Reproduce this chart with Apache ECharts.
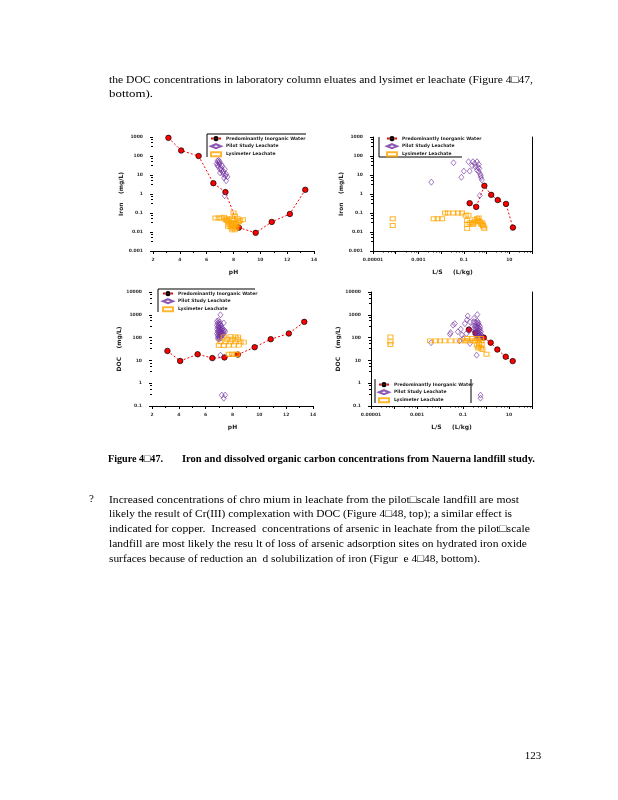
<!DOCTYPE html>
<html>
<head>
<meta charset="utf-8">
<script src="https://cdn.jsdelivr.net/npm/echarts@6/dist/echarts.min.js"></script>
<style>
html,body{margin:0;padding:0;background:#fff;}
#main{width:618px;height:800px;}
</style>
</head>
<body>
<div id="main"></div>
<script>
// ---------------- data ----------------
const seriesNames = ['Predominantly Inorganic Water', 'Pilot Study Leachate', 'Lysimeter Leachate'];

// predominantly inorganic water (pH-static tests)
const inorganicPH = [3.15, 4.1, 5.4, 6.5, 7.4, 8.4, 9.65, 10.85, 12.2, 13.35];
const inorganicFePH = [900, 195, 100, 3.7, 1.26, 0.017, 0.009, 0.034, 0.089, 1.66];
const inorganicDocPH = [26, 9.4, 18.6, 12.6, 13.5, 18, 38, 85, 151, 490];
// predominantly inorganic water (L/S tests)
const inorganicLS = [0.18, 0.35, 0.8, 1.6, 3.1, 7.2, 14.5];
const inorganicFeLS = [0.33, 0.21, 2.7, 0.9, 0.48, 0.3, 0.017];
const inorganicDocLS = [224, 160, 100, 60, 30, 14.5, 9.3];

// pilot study leachate [pH, Fe]
const pilotFePH = [[6.8,55],[6.95,50],[6.75,40],[6.95,38],[6.85,28],[7.15,30],[7.35,20],[7.1,18],[7.0,13],[7.2,14],
  [7.45,11],[7.55,8],[7.3,7],[7.45,5],[7.35,0.8],[6.9,45],[7.05,24],[6.8,33],[7.25,16],[7.4,9],[7.0,20],[6.9,60],[7.1,35],[7.25,11]];
// lysimeter leachate [pH, Fe]
const lysFePH = [[6.65,0.055],[6.9,0.055],[7.1,0.055],[7.3,0.06],[7.5,0.05],[7.7,0.045],[7.9,0.05],[8.0,0.1],[8.1,0.07],[8.3,0.05],
  [8.7,0.045],[8.0,0.04],[7.6,0.035],[7.8,0.03],[8.0,0.028],[8.2,0.03],[7.7,0.025],[7.9,0.022],[8.1,0.02],[8.3,0.025],
  [7.6,0.02],[7.8,0.018],[8.0,0.015],[8.2,0.017],[7.9,0.013],[8.1,0.013],[7.5,0.04],[8.4,0.035],[7.4,0.045],[8.5,0.04]];
// pilot study leachate [L/S, Fe]
const pilotFeLS = [[0.035,44],[0.0037,4.2],[0.078,7.6],[0.1,16],[0.18,16],[0.16,50],[0.25,50],[0.38,50],[0.23,31],[0.32,27],
  [0.45,36],[0.38,18],[0.48,22],[0.45,15],[0.53,11],[0.57,7.3],[0.62,5.5],[0.5,0.83],[0.3,40],[0.42,25],[0.55,9]];
// lysimeter leachate [L/S, Fe]
const lysFeLS = [[0.000074,0.05],[0.000074,0.022],[0.0047,0.05],[0.007,0.05],[0.011,0.05],[0.015,0.1],[0.02,0.1],[0.035,0.1],
  [0.055,0.1],[0.083,0.1],[0.12,0.076],[0.16,0.076],[0.14,0.04],[0.14,0.025],[0.14,0.015],[0.18,0.03],[0.22,0.03],[0.27,0.03],
  [0.33,0.035],[0.38,0.05],[0.42,0.04],[0.5,0.035],[0.55,0.03],[0.6,0.025],[0.65,0.03],[0.7,0.022],[0.75,0.018],[0.8,0.015],
  [0.45,0.055],[0.3,0.045],[0.25,0.025]];
// pilot study leachate [pH, DOC]
const pilotDocPH = [[6.85,520],[6.95,560],[7.05,480],[6.9,430],[7.0,400],[7.1,380],[6.85,350],[6.95,320],[7.05,300],[7.15,330],
  [6.9,280],[7.0,260],[7.1,250],[7.2,270],[6.85,230],[6.95,210],[7.05,200],[7.15,220],[7.25,240],[6.9,180],[7.0,170],[7.1,160],
  [7.2,180],[7.3,200],[6.85,150],[6.95,140],[7.05,130],[7.15,145],[7.25,155],[6.9,120],[7.0,110],[7.1,115],[7.2,125],[7.3,135],
  [6.95,100],[7.05,95],[7.15,100],[6.9,90],[7.0,85],[7.35,160],[7.45,180],[7.4,210],
  [7.1,1000],[7.35,440],[7.1,17],[7.2,0.3],[7.45,0.3],[7.35,0.22]];
// lysimeter leachate [pH, DOC]
const lysDocPH = [[7.35,108],[7.85,110],[8.22,108],[8.42,105],[7.1,65],[7.47,65],[7.85,65],[8.22,65],[8.6,65],[8.84,63],
  [6.98,46],[7.35,45],[7.72,47],[8.1,47],[8.47,47],[7.72,18.6],[7.97,18.6],[8.22,18.6],[8.35,18.6],[7.6,85],[8.0,85],[8.4,85]];
// pilot study leachate [L/S, DOC]
const pilotDocLS = [[0.3,500],[0.35,450],[0.4,420],[0.45,380],[0.5,350],[0.32,330],[0.38,300],[0.44,280],[0.5,260],[0.55,240],
  [0.3,250],[0.36,230],[0.42,210],[0.48,200],[0.54,190],[0.6,180],[0.33,180],[0.39,170],[0.45,160],[0.52,150],[0.58,140],
  [0.35,140],[0.41,130],[0.47,125],[0.53,120],[0.6,110],[0.4,105],[0.46,100],[0.52,95],[0.58,100],[0.62,130],[0.56,300],
  [0.47,450],[0.42,520],
  [0.16,890],[0.42,1020],[0.044,410],[0.037,350],[0.029,165],[0.027,140],[0.0041,60],[0.08,234],[0.12,410],[0.2,490],
  [0.14,150],[0.1,90],[0.07,72],[0.2,55],[0.39,17],[0.58,0.3],[0.58,0.22],[0.25,300],[0.18,200],[0.09,130],[0.06,180],
  [0.3,700],[0.15,600]];
// lysimeter leachate [L/S, DOC]
const lysDocLS = [[0.00007,107],[0.00007,65],[0.00007,50],[0.0037,72],[0.0067,72],[0.01,72],[0.016,72],[0.029,72],[0.052,72],
  [0.087,72],[0.12,72],[0.17,72],[0.23,72],[0.33,72],[0.46,72],[0.64,72],[0.15,91],[0.25,91],[0.4,91],[0.6,91],
  [0.4,47],[0.5,40],[0.6,35],[0.7,30],[0.5,55],[0.65,50],[0.45,35],[1.05,18.6]];

// tick labels
const phTickLabels = ['2','4','6','8','10','12','14'];
const lsTickLabels = ['0.00001','','0.001','','0.1','','10',''];   // 1e-5 .. 1e2
const feTickLabels = ['0.001','0.01','0.1','1','10','100','1000'];  // 1e-3 .. 1e3
const docTickLabels = ['0.1','1','10','100','1000','10000'];         // 1e-1 .. 1e4

// page text
const introLines = ['the DOC concentrations in laboratory column eluates and lysimet er leachate (Figure 4\u25A147,', 'bottom).'];
const captionLabel = 'Figure 4\u25A147.';
const captionText = 'Iron and dissolved organic carbon concentrations from Nauerna landfill study.';
const bulletMark = '?';
const bulletLines = [
  'Increased concentrations of chro mium in leachate from the pilot\u25A1scale landfill are most',
  'likely the result of Cr(III) complexation with DOC (Figure 4\u25A148, top); a similar effect is',
  'indicated for copper.  Increased  concentrations of arsenic in leachate from the pilot\u25A1scale',
  'landfill are most likely the resu lt of loss of arsenic adsorption sites on hydrated iron oxide',
  'surfaces because of reduction an  d solubilization of iron (Figur  e 4\u25A148, bottom).'
];
const pageNumber = '123';

// ---------------- styles ----------------
const RED = '#ff0000', PURPLE = '#7030a0', ORANGE = '#ffa500';
const tickFont = {fontSize: 4.5, fontWeight: 'bold', color: '#333', fontFamily: 'DejaVu Sans'};
const nameFont = {fontSize: 6, fontWeight: 'bold', color: '#222', fontFamily: 'DejaVu Sans'};

function expLabel(arr, offset) {
  return function (v) {
    const e = Math.round(Math.log10(v));
    const s = arr[e + offset];
    return s === undefined ? '' : s;
  };
}

function xPH(gi) {
  return {
    type: 'value', gridIndex: gi, min: 2, max: 14, interval: 2,
    name: 'pH', nameLocation: 'middle', nameGap: 18, nameTextStyle: nameFont,
    axisLine: {show: true, lineStyle: {color: '#000', width: 1}},
    axisTick: {show: true, length: 3, lineStyle: {color: '#000'}},
    minorTick: {show: true, splitNumber: 2, length: 2, lineStyle: {color: '#000'}},
    splitLine: {show: false},
    axisLabel: Object.assign({margin: 6, formatter: v => phTickLabels[(v - 2) / 2]}, tickFont)
  };
}
function xLS(gi) {
  return {
    type: 'log', logBase: 10, gridIndex: gi, min: 0.00001, max: 100, splitNumber: 7,
    name: 'L/S     (L/kg)', nameLocation: 'middle', nameGap: 18, nameTextStyle: nameFont,
    axisLine: {show: true, lineStyle: {color: '#000', width: 1}},
    axisTick: {show: true, length: 3, lineStyle: {color: '#000'}},
    minorTick: {show: true, splitNumber: 5, length: 1.5, lineStyle: {color: '#000'}},
    splitLine: {show: false},
    axisLabel: Object.assign({margin: 6, formatter: expLabel(lsTickLabels, 5)}, tickFont)
  };
}
function yLog(gi, min, max, labels, offset, name, showLine) {
  return {
    type: 'log', logBase: 10, gridIndex: gi, min: min, max: max, splitNumber: Math.round(Math.log10(max / min)),
    name: name, nameLocation: 'middle', nameGap: 28, nameTextStyle: nameFont,
    axisLine: {show: showLine, lineStyle: {color: '#000', width: 1}},
    axisTick: {show: true, length: 3, lineStyle: {color: '#000'}},
    minorTick: {show: true, splitNumber: 4, length: 2, lineStyle: {color: '#000'}},
    splitLine: {show: false},
    axisLabel: Object.assign({margin: 10, formatter: expLabel(labels, offset)}, tickFont)
  };
}
function yRightBorder(gi, min, max) {
  return {
    type: 'log', logBase: 10, gridIndex: gi, position: 'right', min: min, max: max,
    axisLine: {show: true, lineStyle: {color: '#000', width: 1}},
    axisTick: {show: false}, axisLabel: {show: false}, splitLine: {show: false}
  };
}

function inorganicSeries(xi, yi, xs, ys) {
  return {
    name: seriesNames[0], type: 'line', xAxisIndex: xi, yAxisIndex: yi,
    data: xs.map((x, i) => [x, ys[i]]),
    symbol: 'circle', symbolSize: 5.5, z: 2,
    lineStyle: {color: RED, width: 1, type: [2, 2]},
    itemStyle: {color: RED, borderColor: '#000', borderWidth: 0.7}
  };
}
function pilotSeries(xi, yi, data) {
  return {
    name: seriesNames[1], type: 'scatter', xAxisIndex: xi, yAxisIndex: yi, data: data,
    symbol: 'diamond', symbolSize: [5, 6], z: 3,
    itemStyle: {color: 'rgba(255,255,255,0)', borderColor: PURPLE, borderWidth: 0.8}
  };
}
function lysSeries(xi, yi, data) {
  return {
    name: seriesNames[2], type: 'scatter', xAxisIndex: xi, yAxisIndex: yi, data: data,
    symbol: 'rect', symbolSize: [5, 4], z: 4,
    itemStyle: {color: 'rgba(255,255,255,0)', borderColor: ORANGE, borderWidth: 1}
  };
}
function legendAt(left, top) {
  return {
    data: seriesNames, left: left, top: top, orient: 'vertical', itemGap: 2,
    itemWidth: 10, itemHeight: 4, padding: 0,
    textStyle: {fontSize: 4.5, fontWeight: 'bold', color: '#222', fontFamily: 'DejaVu Sans', lineHeight: 5}
  };
}

// ---------------- page text helpers ----------------
const measureCtx = document.createElement('canvas').getContext('2d');
function fitText(text, x, y, width, font) {
  measureCtx.font = font;
  const w = measureCtx.measureText(text).width;
  return {
    type: 'text', x: x, y: y, scaleX: width / w, silent: true,
    style: {text: text, font: font, fill: '#000', textAlign: 'left', textVerticalAlign: 'middle'}
  };
}
function seg(x1, y1, x2, y2) {
  return {type: 'line', silent: true, shape: {x1: x1, y1: y1, x2: x2, y2: y2},
    style: {stroke: '#000', lineWidth: 1}};
}

const bodyFont = '11px "Liberation Serif"';
const boldFont = 'bold 11px "Liberation Serif"';
const bulletWidths = [410, 403, 421, 418, 371];
const bulletY = [500, 514.5, 529, 544, 559];

const graphics = [
  fitText(introLines[0], 109, 80, 424, bodyFont),
  fitText(introLines[1], 109, 94.5, 44, bodyFont),
  fitText(captionLabel, 108, 459, 55, boldFont),
  fitText(captionText, 182, 459, 353, boldFont),
  {type: 'text', x: 89, y: 499, silent: true, style: {text: bulletMark, font: bodyFont, fill: '#000', textVerticalAlign: 'middle'}},
  {type: 'text', x: 533, y: 756, silent: true, style: {text: pageNumber, font: bodyFont, fill: '#000', textAlign: 'center', textVerticalAlign: 'middle'}},
  // legend frames
  seg(207, 134, 306, 134), seg(207, 134, 207, 157),
  seg(379, 137, 379, 157), seg(379, 157, 462, 157),
  seg(158, 289, 255, 289), seg(158, 289, 158, 312),
  seg(375, 379, 375, 403), seg(471, 379, 471, 403)
];
bulletLines.forEach((t, i) => graphics.push(fitText(t, 109, bulletY[i], bulletWidths[i], bodyFont)));

// ---------------- chart ----------------
const chart = echarts.init(document.getElementById('main'), null, {renderer: 'canvas'});
chart.setOption({
  backgroundColor: '#fff',
  animation: false,
  grid: [
    {left: 153, top: 137, width: 161, height: 114},
    {left: 373, top: 137, width: 159, height: 114},
    {left: 152, top: 292, width: 161, height: 114},
    {left: 371, top: 292, width: 161, height: 114}
  ],
  xAxis: [xPH(0), xLS(1), xPH(2), xLS(3)],
  yAxis: [
    yLog(0, 0.001, 1000, feTickLabels, 3, 'Iron    (mg/L)', false),
    yLog(1, 0.001, 1000, feTickLabels, 3, 'Iron    (mg/L)', true),
    yLog(2, 0.1, 10000, docTickLabels, 1, 'DOC    (mg/L)', false),
    yLog(3, 0.1, 10000, docTickLabels, 1, 'DOC    (mg/L)', true),
    yRightBorder(1, 0.001, 1000),
    yRightBorder(3, 0.1, 10000)
  ],
  legend: [legendAt(210, 136), legendAt(386, 136), legendAt(162, 291), legendAt(378, 382)],
  graphic: graphics,
  series: [
    inorganicSeries(0, 0, inorganicPH, inorganicFePH),
    pilotSeries(0, 0, pilotFePH),
    lysSeries(0, 0, lysFePH),
    inorganicSeries(1, 1, inorganicLS, inorganicFeLS),
    pilotSeries(1, 1, pilotFeLS),
    lysSeries(1, 1, lysFeLS),
    inorganicSeries(2, 2, inorganicPH, inorganicDocPH),
    pilotSeries(2, 2, pilotDocPH),
    lysSeries(2, 2, lysDocPH),
    inorganicSeries(3, 3, inorganicLS, inorganicDocLS),
    pilotSeries(3, 3, pilotDocLS),
    lysSeries(3, 3, lysDocLS)
  ]
});
</script>
</body>
</html>
